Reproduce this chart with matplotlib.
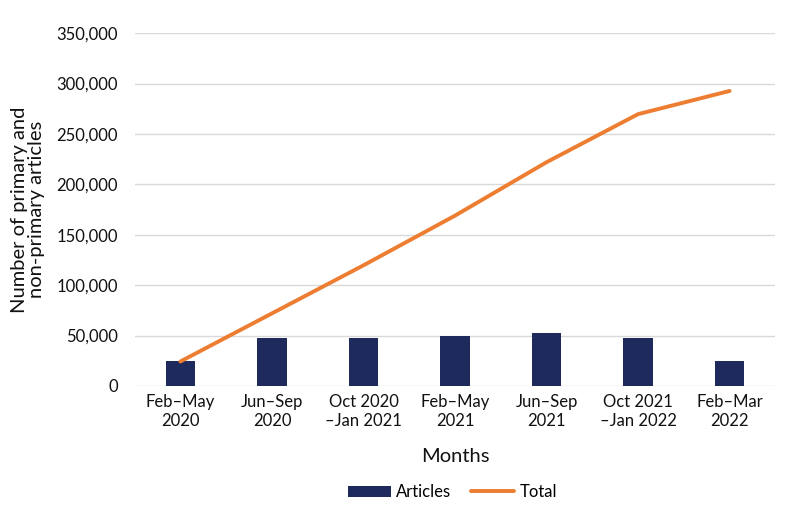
import matplotlib as mpl
mpl.use('Agg')
import matplotlib.pyplot as plt
import numpy as np

months = ["Feb\u2013May\n2020", "Jun\u2013Sep\n2020", "Oct 2020\n\u2013Jan 2021",
          "Feb\u2013May\n2021", "Jun\u2013Sep\n2021", "Oct 2021\n\u2013Jan 2022",
          "Feb\u2013Mar\n2022"]
articles = [24300, 47700, 47700, 49300, 53000, 47700, 24300]
total = [24300, 72000, 119700, 169000, 222000, 269700, 292700]

mpl.rcParams['font.family'] = ['Lato', 'DejaVu Sans']

fig = plt.figure(figsize=(7.92, 5.27), dpi=100)
ax = fig.add_axes([0.170, 0.2676, 0.809, 0.6694])

x = np.arange(len(months))
bars = ax.bar(x, articles, width=0.32, color='#1F2A5C', label='Articles', zorder=3)
line, = ax.plot(x, total, color='#ED7D31', linewidth=2.8, label='Total', zorder=4,
                solid_capstyle='round')

ax.set_xlim(-0.5, len(months) - 0.5)
ax.set_ylim(0, 350000)
ax.set_yticks(np.arange(0, 350001, 50000))
ax.yaxis.set_major_formatter(mpl.ticker.FuncFormatter(lambda v, p: f"{int(v):,}"))
ax.set_xticks(x)
ax.set_xticklabels(months, fontsize=12, color='#111111')
ax.tick_params(axis='y', labelsize=12, colors='#111111', length=0, pad=12)
ax.tick_params(axis='x', length=0, pad=6)
ax.grid(axis='y', color='#D9D9D9', linewidth=1, zorder=0)
for s in ax.spines.values():
    s.set_visible(False)

ax.set_xlabel("Months", fontsize=14.5, labelpad=14, color='#111111')
ax.set_ylabel("Number of primary and\nnon-primary articles", fontsize=14.5,
              labelpad=8, color='#111111', linespacing=1.0)

fig.legend([bars, line], ['Articles', 'Total'], loc='center',
           bbox_to_anchor=(0.571, 0.066), ncol=2, frameon=False,
           fontsize=12, handlelength=2.6, columnspacing=1.2, handletextpad=0.3)

plt.savefig("out.png", dpi=100)
